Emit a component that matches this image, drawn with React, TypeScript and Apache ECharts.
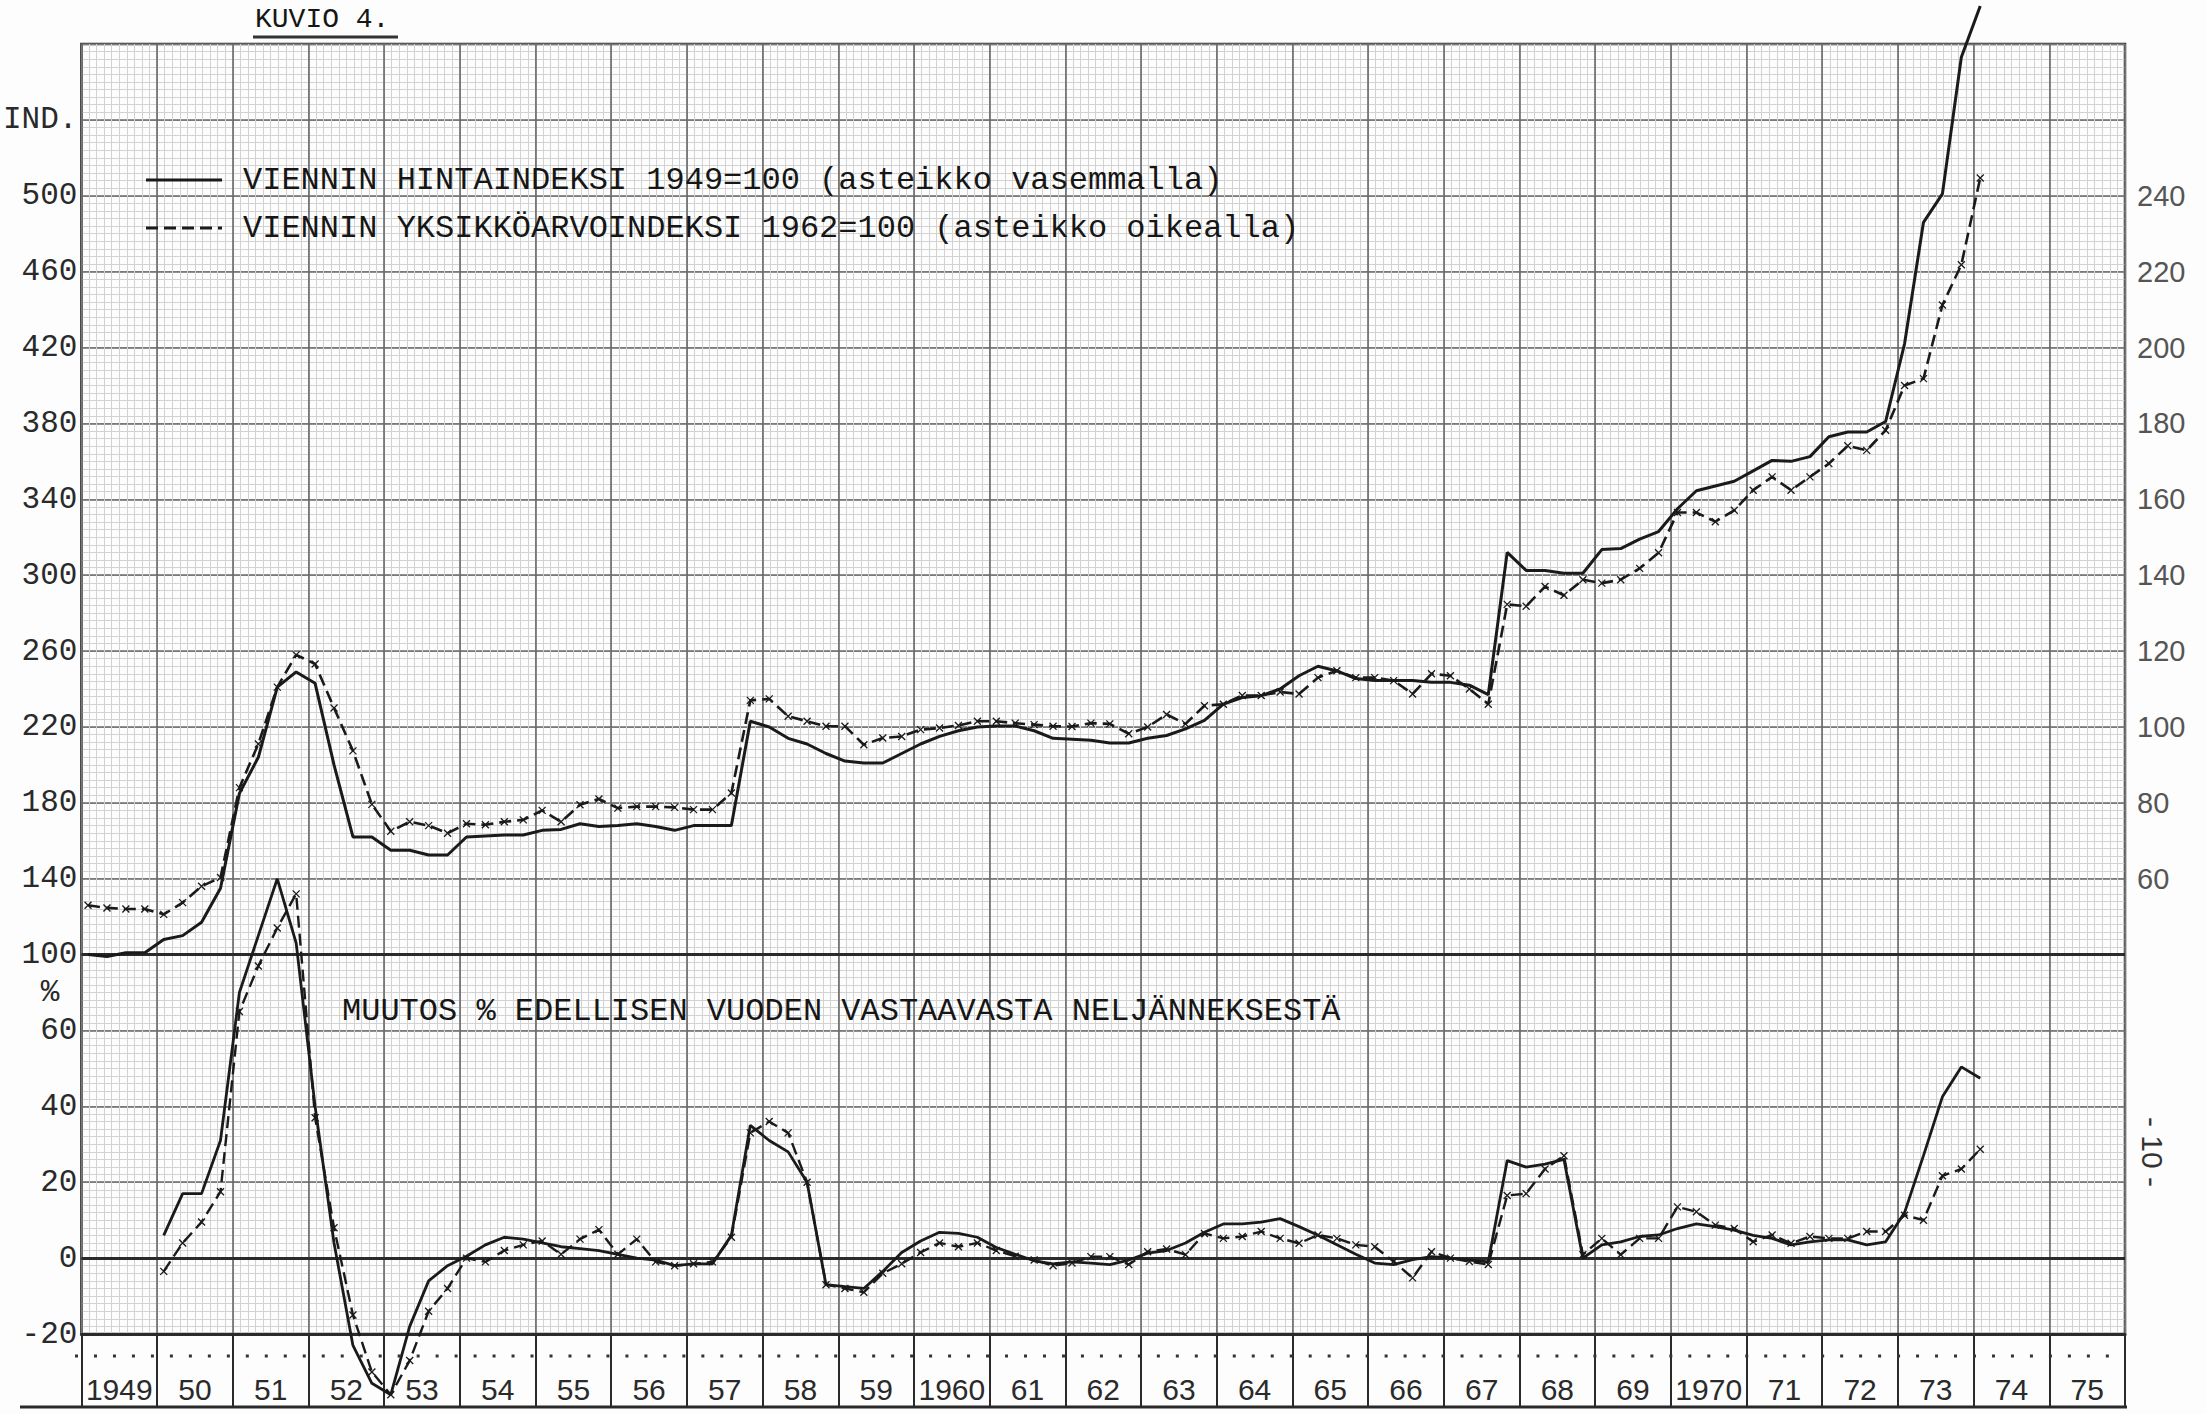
import React, { useEffect, useRef } from "react";
import * as echarts from "echarts";

// ---------- data ----------
const yearLabels = ["1949", "50", "51", "52", "53", "54", "55", "56", "57", "58", "59", "1960", "61", "62", "63", "64", "65", "66", "67", "68", "69", "1970", "71", "72", "73", "74", "75"];

// Export price index 1949=100 (left scale), quarterly from 1949 Q1
const priceIndexStart = 1949;
const priceIndex = [
  100, 99, 101, 101,
  108, 110, 117, 135,
  185, 204, 241, 249,
  243, 200, 162, 162,
  155, 155, 152.5, 152.5,
  162, 162.5, 163, 163,
  165.5, 166, 169, 167.5,
  168, 169, 167.5, 165.5,
  168, 168, 168, 223,
  220, 214, 211, 206,
  202, 201, 201, 206,
  211, 215, 218, 220,
  220.5, 220.5, 218, 214,
  213.5, 213, 211.5, 211.5,
  214, 215.5, 219, 223.5,
  232, 235.5, 236.5, 240,
  247, 252, 249.5, 245.5,
  244.5, 244.5, 244.5, 243.5,
  243.5, 242, 237, 312,
  302.5, 302.5, 301, 301,
  313.5, 314, 319, 323,
  335, 344.5, 347, 349.5,
  355, 360.5, 360, 362.5,
  373, 375.5, 375.5, 381,
  422, 486, 501, 573,
  600,
];

// Export unit value index 1962=100 (right scale), quarterly from 1949 Q1
const unitIndexStart = 1949;
const unitValueIndex = [
  53, 52.3, 52, 52,
  50.6, 53.7, 58, 60.3,
  84, 95.5, 110.5, 119,
  116.6, 105, 93.7, 79.6,
  72.5, 75, 74, 72,
  74.5, 74.2, 75, 75.5,
  78, 75, 79.5, 81,
  78.6, 79, 79, 78.8,
  78.2, 78.2, 82.6, 107,
  107.4, 102.8, 101.5, 100.2,
  100.2, 95.3, 97.1, 97.5,
  99.3, 99.7, 100.4, 101.5,
  101.5, 101, 100.6, 100.2,
  100.1, 101, 100.8, 98.2,
  100, 103.3, 100.8, 105.6,
  106, 108.3, 108.3, 109.2,
  108.7, 113, 114.8, 113,
  113, 112.2, 108.7, 114,
  113.5, 110, 106, 132.3,
  131.8, 137, 134.7, 138.8,
  137.9, 138.8, 141.8, 145.9,
  156.5, 156.5, 154.1, 157.1,
  162.4, 165.9, 162.4, 165.9,
  169.4, 174.1, 172.9, 178.2,
  190, 191.8, 211.2, 221.8,
  244.7,
];

// % change from the same quarter of the previous year, from 1950 Q1
const changeStart = 1950;
const priceChange = [
  6, 17, 17, 31,
  70, 85, 100, 83,
  40, 4, -23, -33,
  -36, -18, -6, -2,
  0.5, 3.5, 5.5, 5,
  4, 3, 2.5, 2,
  1, 0, -0.5, -2,
  -1.5, -1.5, 6, 35,
  31, 28, 20, -7,
  -7.5, -8, -3.5, 1.5,
  4.5, 6.8, 6.5, 5.5,
  2.8, 1, -0.7, -1.5,
  -1, -1.3, -1.7, -0.5,
  1.3, 2, 4, 6.8,
  9, 9, 9.5, 10.4,
  8.3, 6, 3.5, 1,
  -1.3, -1.7, -0.4, 0.4,
  0, -0.5, -1, 25.7,
  24, 24.8, 26, 0,
  3.5, 4.3, 5.7, 6.1,
  7.8, 9, 8.3, 7.4,
  6, 5.2, 3.5, 4.3,
  4.8, 4.8, 3.5, 4.3,
  12, 27, 42.5, 50.4,
  47.4,
];
const unitValueChange = [
  -3.5, 4, 9.5, 17.5,
  65, 77, 87, 96,
  37, 8, -15, -30,
  -36, -27, -14, -8,
  0, -1, 2, 3.5,
  4.5, 1, 5, 7.5,
  1, 5, -1, -2,
  -1.5, -1, 5.5, 33,
  36, 33, 20, -7,
  -8, -9, -4, -1.5,
  1.5, 4, 3, 4,
  2, 0.5, -0.5, -2,
  -1.3, 0.4, 0.4, -1.7,
  1.7, 2.4, 0.9, 6.5,
  5.2, 5.7, 7, 5.2,
  3.9, 6.1, 5.2, 3.5,
  3, -0.9, -5.2, 1.7,
  0, -0.9, -1.7, 16.5,
  17, 23.5, 27, 0.9,
  5.2, 0.9, 5.2, 5.2,
  13.5, 12.2, 8.7, 7.8,
  4.3, 6.1, 3.9, 5.7,
  5.2, 5.2, 7, 7,
  11.3, 10, 21.7, 23.5,
  28.7,
];

// tick labels
const leftIndexLabels = [100, 140, 180, 220, 260, 300, 340, 380, 420, 460, 500];
const leftIndexTitle = { value: 540, text: "IND." };
const leftPctLabels = [-20, 0, 20, 40, 60];
const pctTitle = { value: 70, text: "%" };
const rightLabels = [60, 80, 100, 120, 140, 160, 180, 200, 220, 240];
const pctRefLines = [0, 80];

const legendPrice = "VIENNIN HINTAINDEKSI 1949=100 (asteikko vasemmalla)";
const legendUnit = "VIENNIN YKSIKKÖARVOINDEKSI 1962=100 (asteikko oikealla)";
const changeTitle = "MUUTOS % EDELLISEN VUODEN VASTAAVASTA NELJÄNNEKSESTÄ";
const figTitle = "KUVIO 4.";
const pageNo = "- 10 -";

const MONO = "'Liberation Mono', 'DejaVu Sans Mono', monospace";
const SANS = "'Liberation Sans', 'DejaVu Sans', sans-serif";
const INK = "#1a1a1a";
const TYPE = "#161616";
const CROSS = "path://M0,0L10,10M10,0L0,10";

const toPairs = (vals: number[], startYear: number) =>
  vals.map((v, i) => [startYear + (i + 0.35) / 4, v]);

export default function App() {
  const ref = useRef<HTMLDivElement>(null);

  useEffect(() => {
    if (!ref.current) return;
    const chart = echarts.init(ref.current, null, { renderer: "svg" });

    const hidden = {
      axisLine: { show: false },
      axisTick: { show: false },
    };

    const option: any = {
      animation: false,
      backgroundColor: "#fdfdfd",
      grid: {
        left: 75,
        right: 82,
        top: 44,
        bottom: 80,
        show: true,
        borderColor: "#2a2a2a",
        borderWidth: 2.5,
        backgroundColor: "transparent",
      },
      xAxis: [
        {
          type: "value",
          min: 1949,
          max: 1976,
          interval: 1,
          z: 2,
          ...hidden,
          axisLabel: { show: false },
          splitLine: { show: true, lineStyle: { color: "#6a6a6a", width: 1.6 } },
          minorTick: { show: false, splitNumber: 10 },
          minorSplitLine: { show: true, lineStyle: { color: "#d2d2d2", width: 1 } },
        },
        {
          type: "category",
          data: yearLabels,
          boundaryGap: true,
          position: "bottom",
          z: 3,
          axisLine: { show: true, onZero: false, lineStyle: { color: "#2a2a2a", width: 3 } },
          axisTick: { show: true, length: 73, interval: 0, lineStyle: { color: "#2a2a2a", width: 2 } },
          axisLabel: { interval: 0, margin: 40, fontFamily: SANS, fontSize: 30, color: "#2a2a2a" },
          splitLine: { show: false },
        },
        {
          type: "value",
          min: 1949,
          max: 1976,
          interval: 0.5,
          z: 1,
          ...hidden,
          axisLabel: { show: false },
          splitLine: { show: true, lineStyle: { color: "#ababab", width: 1 } },
        },
      ],
      yAxis: [
        {
          type: "value",
          min: -20,
          max: 320,
          interval: 20,
          position: "left",
          z: 2,
          ...hidden,
          axisLabel: {
            formatter: (v: number) => (leftPctLabels.includes(v) ? String(v) : ""),
            margin: 4,
            fontFamily: MONO,
            fontSize: 31,
            color: "#2a2a2a",
          },
          splitLine: { show: true, lineStyle: { color: "#6a6a6a", width: 1.6 } },
          minorTick: { show: false, splitNumber: 10 },
          minorSplitLine: { show: true, lineStyle: { color: "#d2d2d2", width: 1 } },
        },
        {
          type: "value",
          min: -100,
          max: 580,
          interval: 40,
          position: "left",
          z: 2,
          ...hidden,
          axisLabel: {
            formatter: (v: number) =>
              v === leftIndexTitle.value ? leftIndexTitle.text : leftIndexLabels.includes(v) ? String(v) : "",
            margin: 4,
            fontFamily: MONO,
            fontSize: 31,
            color: "#2a2a2a",
          },
          splitLine: { show: false },
        },
        {
          type: "value",
          min: -60,
          max: 280,
          interval: 20,
          position: "right",
          z: 2,
          ...hidden,
          axisLabel: {
            formatter: (v: number) => (rightLabels.includes(v) ? String(v) : ""),
            margin: 12,
            fontFamily: SANS,
            fontSize: 29,
            color: "#555",
          },
          splitLine: { show: false },
        },
        {
          type: "value",
          min: -20,
          max: 320,
          interval: 10,
          position: "left",
          z: 1,
          ...hidden,
          axisLabel: {
            formatter: (v: number) => (v === pctTitle.value ? pctTitle.text : ""),
            margin: 22,
            fontFamily: MONO,
            fontSize: 31,
            color: "#2a2a2a",
          },
          splitLine: { show: true, lineStyle: { color: "#ababab", width: 1 } },
        },
      ],
      series: [
        {
          name: "hintaindeksi",
          type: "line",
          xAxisIndex: 0,
          yAxisIndex: 1,
          data: toPairs(priceIndex, priceIndexStart),
          symbol: "none",
          clip: false,
          lineStyle: { color: INK, width: 3 },
          z: 5,
        },
        {
          name: "yksikköarvoindeksi",
          type: "line",
          xAxisIndex: 0,
          yAxisIndex: 2,
          data: toPairs(unitValueIndex, unitIndexStart),
          symbol: CROSS,
          symbolSize: 7,
          clip: false,
          itemStyle: { color: "none", borderColor: INK, borderWidth: 1.3 },
          lineStyle: { color: INK, width: 2.6, type: [12, 6] },
          z: 5,
        },
        {
          name: "hinta muutos",
          type: "line",
          xAxisIndex: 0,
          yAxisIndex: 0,
          data: toPairs(priceChange, changeStart),
          symbol: "none",
          clip: false,
          lineStyle: { color: INK, width: 2.8 },
          z: 5,
          markLine: {
            silent: true,
            symbol: "none",
            label: { show: false },
            lineStyle: { color: "#2a2a2a", width: 3, type: "solid" },
            data: pctRefLines.map((v) => ({ yAxis: v })),
            z: 4,
          },
        },
        {
          name: "yksikköarvo muutos",
          type: "line",
          xAxisIndex: 0,
          yAxisIndex: 0,
          data: toPairs(unitValueChange, changeStart),
          symbol: CROSS,
          symbolSize: 7,
          clip: false,
          itemStyle: { color: "none", borderColor: INK, borderWidth: 1.3 },
          lineStyle: { color: INK, width: 2.4, type: [12, 6] },
          z: 5,
        },
      ],
      graphic: [
        {
          type: "text",
          x: 255,
          y: 33,
          z: 10,
          style: { text: figTitle, fontFamily: MONO, fontSize: 28, fill: TYPE, align: "left", verticalAlign: "bottom" },
        },
        { type: "line", z: 10, shape: { x1: 253, y1: 37, x2: 398, y2: 37 }, style: { stroke: "#333", lineWidth: 3 } },
        { type: "line", z: 10, shape: { x1: 146, y1: 180, x2: 222, y2: 180 }, style: { stroke: INK, lineWidth: 3.2 } },
        {
          type: "text",
          x: 243,
          y: 180,
          z: 10,
          style: { text: legendPrice, fontFamily: MONO, fontSize: 32, fill: TYPE, align: "left", verticalAlign: "middle" },
        },
        {
          type: "line",
          z: 10,
          shape: { x1: 146, y1: 228, x2: 222, y2: 228 },
          style: { stroke: INK, lineWidth: 2.8, lineDash: [12, 6] },
        },
        {
          type: "text",
          x: 243,
          y: 228,
          z: 10,
          style: { text: legendUnit, fontFamily: MONO, fontSize: 32, fill: TYPE, align: "left", verticalAlign: "middle" },
        },
        {
          type: "text",
          x: 342,
          y: 1011,
          z: 10,
          style: { text: changeTitle, fontFamily: MONO, fontSize: 32, fill: TYPE, align: "left", verticalAlign: "middle" },
        },
        {
          type: "line",
          z: 10,
          shape: { x1: 75, y1: 1356, x2: 2125, y2: 1356 },
          style: { stroke: "#333", lineWidth: 3, lineDash: [3, 15.98] },
        },
        { type: "line", z: 10, shape: { x1: 20, y1: 1407, x2: 2127, y2: 1407 }, style: { stroke: "#2a2a2a", lineWidth: 3 } },
        {
          type: "text",
          x: 2152,
          y: 1152,
          z: 10,
          rotation: -Math.PI / 2,
          style: { text: pageNo, fontFamily: SANS, fontSize: 30, fill: "#333", align: "center", verticalAlign: "middle" },
        },
      ],
    };

    chart.setOption(option);
    return () => chart.dispose();
  }, []);

  return (
    <div
      ref={ref}
      style={{ position: "fixed", left: 0, top: 0, width: 2207, height: 1414, background: "#fff" }}
    />
  );
}
